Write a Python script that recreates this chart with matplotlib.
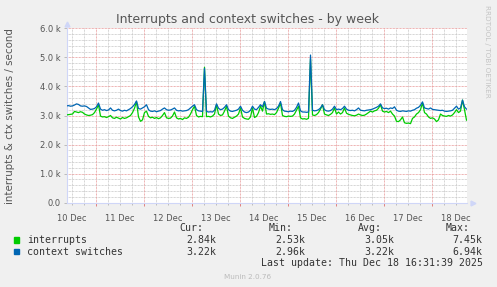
import numpy as np
import matplotlib.pyplot as plt
from matplotlib.patches import Rectangle

# hourly samples, values in thousands per second (last 200 hours)
interrupts = [
    3.02, 3.03, 3.04, 3.05, 3.14, 3.12, 3.10, 3.13, 3.11, 3.05,
    3.02, 3.00, 3.01, 3.03, 3.10, 3.22, 3.37, 2.98, 2.95, 2.96,
    2.93, 2.96, 3.00, 2.92, 2.90, 2.94, 2.91, 2.88, 2.93, 2.90,
    2.92, 2.96, 3.00, 3.10, 3.25, 3.48, 2.95, 2.80, 2.85, 3.10,
    3.15, 2.97, 2.92, 2.94, 2.90, 2.93, 2.89, 2.92, 3.00, 3.10,
    2.92, 2.90, 2.91, 2.98, 3.12, 2.92, 2.88, 2.90, 2.86, 2.92,
    2.90, 2.94, 3.05, 3.20, 3.32, 3.00, 2.95, 2.97, 2.96, 4.66,
    2.96, 2.97, 2.95, 2.98, 3.05, 3.37, 3.05, 3.00, 3.02, 3.15,
    3.32, 2.98, 2.92, 2.90, 2.94, 2.98, 3.05, 3.26, 2.95, 2.90,
    2.88, 2.87, 2.95, 3.26, 2.93, 2.97, 3.10, 3.32, 3.15, 3.48,
    3.05, 3.06, 3.04, 3.05, 3.03, 3.10, 3.25, 3.43, 3.00, 2.97,
    2.96, 2.98, 2.97, 2.98, 3.05, 3.18, 3.32, 2.92, 2.88, 2.89,
    2.87, 2.90, 4.95, 3.02, 3.00, 3.03, 3.10, 3.22, 3.37, 3.05,
    3.02, 3.00, 3.04, 3.10, 3.26, 3.05, 3.12, 3.05, 3.10, 3.26,
    3.08, 3.04, 3.02, 3.00, 2.99, 3.01, 3.05, 3.02, 3.00, 3.01,
    3.05, 3.10, 3.15, 3.12, 3.16, 3.18, 3.25, 3.37, 3.15, 3.12,
    3.14, 3.10, 3.15, 3.05, 2.98, 2.80, 2.79, 2.85, 2.95, 2.75,
    2.73, 2.74, 2.72, 2.90, 2.95, 3.05, 3.10, 3.20, 3.43, 3.10,
    3.05, 2.95, 2.90, 2.92, 2.88, 2.79, 2.85, 3.05, 3.00, 2.98,
    2.97, 3.00, 2.98, 3.02, 3.10, 3.20, 3.10, 3.15, 3.53, 3.20, 2.84,
]
ctx_switches = [
    3.33, 3.34, 3.32, 3.33, 3.36, 3.40, 3.38, 3.33, 3.32, 3.33,
    3.31, 3.26, 3.21, 3.22, 3.24, 3.30, 3.43, 3.22, 3.18, 3.20,
    3.17, 3.19, 3.26, 3.18, 3.16, 3.18, 3.22, 3.17, 3.15, 3.18,
    3.16, 3.20, 3.24, 3.30, 3.38, 3.50, 3.24, 3.22, 3.26, 3.30,
    3.37, 3.20, 3.15, 3.14, 3.16, 3.13, 3.15, 3.17, 3.22, 3.26,
    3.20, 3.18, 3.19, 3.22, 3.26, 3.18, 3.16, 3.17, 3.15, 3.16,
    3.17, 3.20, 3.26, 3.32, 3.37, 3.20, 3.16, 3.15, 3.14, 4.62,
    3.14, 3.12, 3.13, 3.12, 3.18, 3.40, 3.25, 3.20, 3.22, 3.28,
    3.37, 3.20, 3.15, 3.14, 3.16, 3.18, 3.22, 3.32, 3.18, 3.12,
    3.10, 3.12, 3.18, 3.32, 3.22, 3.20, 3.28, 3.37, 3.30, 3.48,
    3.25, 3.22, 3.21, 3.22, 3.20, 3.24, 3.32, 3.48, 3.20, 3.15,
    3.14, 3.13, 3.15, 3.14, 3.18, 3.28, 3.43, 3.16, 3.12, 3.12,
    3.11, 3.12, 5.08, 3.18, 3.16, 3.17, 3.20, 3.26, 3.37, 3.20,
    3.16, 3.15, 3.17, 3.22, 3.32, 3.20, 3.22, 3.20, 3.24, 3.32,
    3.22, 3.18, 3.17, 3.18, 3.16, 3.20, 3.26, 3.18, 3.17, 3.16,
    3.18, 3.19, 3.20, 3.22, 3.25, 3.28, 3.32, 3.40, 3.26, 3.24,
    3.25, 3.22, 3.26, 3.24, 3.30, 3.18, 3.15, 3.14, 3.16, 3.15,
    3.14, 3.16, 3.15, 3.18, 3.20, 3.25, 3.28, 3.35, 3.47, 3.26,
    3.24, 3.22, 3.26, 3.21, 3.20, 3.19, 3.18, 3.17, 3.18, 3.15,
    3.14, 3.15, 3.16, 3.18, 3.25, 3.32, 3.22, 3.26, 3.53, 3.30, 3.22,
]
day_labels = ["10 Dec", "11 Dec", "12 Dec", "13 Dec", "14 Dec",
              "15 Dec", "16 Dec", "17 Dec", "18 Dec"]
series_names = ["interrupts", "context switches"]
colors = ["#00cc00", "#0066b3"]
cur = ["2.84k", "3.22k"]
mins = ["2.53k", "2.96k"]
avgs = ["3.05k", "3.22k"]
maxs = ["7.45k", "6.94k"]

first_midnight = 14.75  # hours from left edge to first midnight
span = 200

W, H = 497, 287
fig = plt.figure(figsize=(W / 100, H / 100), dpi=100, facecolor="#f0f0f0")
ax = fig.add_axes([66.5 / W, 1 - 202.7 / H, 400 / W, 174.4 / H])
ax.set_facecolor("white")

def fx(x):
    return x / W

def fy(y):
    return 1 - y / H

dot = (0, (0.72, 0.72))
minor_c = "#c8c8c8"
major_c = "#e89a9a"

# grid
midnights = np.arange(first_midnight, span, 24)
sixes = [h for h in np.arange(first_midnight - 12, span, 6) if h > 0 and not np.isclose((h - first_midnight) % 24, 0)]
ax.vlines(sixes, 0, 6, colors=minor_c, linestyles=dot, linewidth=0.72, zorder=1)
ax.hlines([v for v in np.arange(0.2, 6.01, 0.2) if not np.isclose(v % 1, 0) and not np.isclose(v % 1, 1)],
          0, span, colors=minor_c, linestyles=dot, linewidth=0.72, zorder=1)
ax.vlines(midnights, 0, 6, colors=major_c, linestyles=dot, linewidth=0.72, zorder=1)
ax.hlines(np.arange(1, 7), 0, span, colors=major_c, linestyles=dot, linewidth=0.72, zorder=1)

hours = np.arange(len(interrupts))
ax.plot(hours, interrupts, color=colors[0], lw=0.9, zorder=3)
ax.plot(hours, ctx_switches, color=colors[1], lw=0.9, zorder=4)

ax.set_xlim(0, span)
ax.set_ylim(0, 6)
for s in ["top", "right"]:
    ax.spines[s].set_visible(False)
for s in ["left", "bottom"]:
    ax.spines[s].set_color("#cfd6f8")
    ax.spines[s].set_linewidth(0.8)

ax.set_xticks(midnights)
ax.set_xticklabels([])
ax.tick_params(axis="x", length=2, color="#e08080", width=0.7)
ax.set_xticks(sixes, minor=True)
ax.tick_params(axis="x", which="minor", length=1.5, color="#bbbbbb", width=0.7)
yt = np.arange(0, 7)
ax.set_yticks(yt)
ax.set_yticklabels(["0.0"] + [f"{v:.1f} k" for v in yt[1:]], fontsize=6, color="#555555")
ax.tick_params(axis="y", length=2, color="#bbbbbb", width=0.7, pad=2)
for i, lab in enumerate(day_labels):
    ax.text(first_midnight - 12 + 24 * i, -0.55, lab, ha="center", va="center",
            fontsize=6, color="#555555", clip_on=False)

# axis arrows
ax.plot([0], [6.15], marker="^", color="#cfd6f8", ms=3.5, clip_on=False)
ax.plot([span + 3], [0], marker=">", color="#cfd6f8", ms=3.5, clip_on=False)

fig.text(fx(248), fy(19), "Interrupts and context switches - by week", ha="center",
         va="center", fontsize=9, color="#555555")
fig.text(fx(10), fy(116), "interrupts & ctx switches / second", rotation=90,
         ha="center", va="center", fontsize=7.4, color="#555555")
fig.text(fx(487), fy(5), "RRDTOOL / TOBI OETIKER", rotation=-90, ha="center",
         va="top", fontsize=5.2, color="#c4c4c4")

mono = dict(family="DejaVu Sans Mono", fontsize=7.1, color="#333333", va="center")
for x, hdr in [(203, "Cur:"), (292.7, "Min:"), (381.7, "Avg:"), (470, "Max:")]:
    fig.text(fx(x), fy(227.7), hdr, ha="right", **mono)
rows_y = [240, 251.7]
for i, name in enumerate(series_names):
    y = rows_y[i]
    fig.add_artist(Rectangle((fx(14), fy(y + 2.7)), 5.3 / W, 5.3 / H,
                             transform=fig.transFigure, color=colors[i]))
    fig.text(fx(26.7), fy(y), name, ha="left", **mono)
    for x, vals in [(216.7, cur), (305, mins), (394, avgs), (482.7, maxs)]:
        fig.text(fx(x), fy(y), vals[i], ha="right", **mono)
fig.text(fx(482.7), fy(263.3), "Last update: Thu Dec 18 16:31:39 2025", ha="right", **mono)
fig.text(fx(248), fy(277), "Munin 2.0.76", ha="center", va="center",
         fontsize=5.2, color="#bbbbbb")

fig.savefig("out.png", dpi=100, facecolor=fig.get_facecolor())
